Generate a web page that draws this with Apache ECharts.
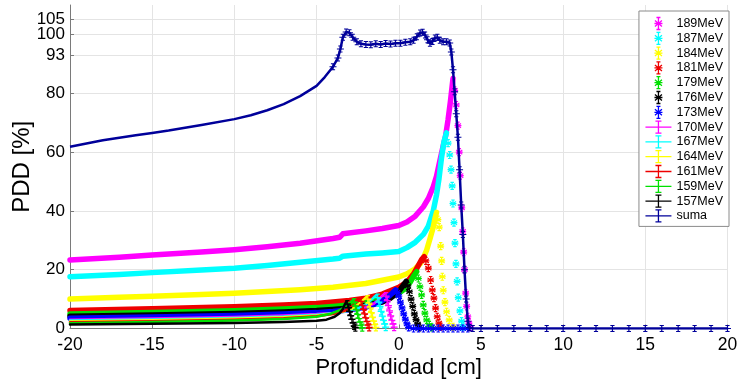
<!DOCTYPE html>
<html>
<head>
<meta charset="utf-8">
<script src="https://cdn.jsdelivr.net/npm/echarts@6/dist/echarts.min.js"></script>
<style>
  html, body { margin: 0; padding: 0; background: #fff; }
  #chart { width: 741px; height: 384px; }
</style>
</head>
<body>
<div id="chart"></div>
<script>
// Axis ticks
const depthTicks = [-20, -15, -10, -5, 0, 5, 10, 15, 20];
const doseTicks = [0, 20, 40, 60, 80, 93, 100, 105];

// Depth-dose curves per beam energy: [depth (cm), dose (%)]
const pdd189 = [[-20,23.3],[-17,24.2],[-15,25.0],[-12,26.0],[-10,26.8],[-8,27.8],[-6,29.0],[-4,30.6],[-3.6,31.0],[-3.4,32.2],[-2,33.2],[-1,34.0],[0,35.0],[0.5,36.2],[1,38.2],[1.5,41.4],[1.8,44.2],[2.1,48.2],[2.3,51.8],[2.5,57.0],[2.7,62.0],[2.85,65.5],[3.0,71.0],[3.15,77.5],[3.3,85.0],[3.4,81.0],[3.5,76.0],[3.6,69.0],[3.68,60.0],[3.74,52.0],[3.83,41.0],[3.89,33.0],[3.95,26.0],[4.0,20.0],[4.07,12.0],[4.13,7.5],[4.2,4.0],[4.27,1.8],[4.35,0.5]];
const pdd187 = [[-20,17.6],[-17,18.4],[-15,19.0],[-12,19.9],[-10,20.5],[-8,21.4],[-6,22.5],[-4,23.6],[-3.6,23.9],[-3.4,24.6],[-2,25.3],[-1,25.7],[0,26.2],[0.5,27.5],[1,29.3],[1.5,32.0],[1.8,34.8],[2.1,40.0],[2.3,45.5],[2.45,51.0],[2.6,58.0],[2.75,63.5],[2.9,66.5],[3.0,63.0],[3.1,59.0],[3.18,54.0],[3.25,48.5],[3.3,42.5],[3.36,36.0],[3.42,29.0],[3.48,22.0],[3.55,16.0],[3.62,10.5],[3.72,6.0],[3.82,2.5],[3.9,0.6]];
const pdd184 = [[-20,10.0],[-17,10.6],[-15,11.0],[-12,11.6],[-10,12.0],[-8,12.6],[-6,13.2],[-4,14.0],[-2,15.3],[0,17.5],[0.5,18.6],[1,20.3],[1.3,22.0],[1.5,24.0],[1.7,26.7],[1.9,30.5],[2.1,34.5],[2.22,37.8],[2.3,39.5],[2.38,37.0],[2.46,34.5],[2.55,28.0],[2.61,23.0],[2.65,17.6],[2.71,13.0],[2.81,9.0],[2.91,5.7],[3.07,2.9],[3.3,0.6]];
const pdd181 = [[-20,6.1],[-15,6.7],[-10,7.4],[-7,8.0],[-5,8.5],[-4,9.0],[-3,9.5],[-2,10.3],[-1,11.7],[0,14.0],[0.5,15.8],[0.9,18.5],[1.2,21.5],[1.4,23.5],[1.55,24.4],[1.65,23.0],[1.8,20.5],[1.94,16.5],[2.04,13.1],[2.14,10.3],[2.24,6.9],[2.34,4.0],[2.44,1.8],[2.55,0.6]];
const pdd179 = [[-20,4.9],[-15,5.4],[-10,6.0],[-7,6.6],[-5,7.1],[-4,7.5],[-3,8.0],[-2,8.8],[-1,10.0],[0,12.0],[0.4,13.6],[0.7,15.8],[0.9,17.8],[1.09,19.3],[1.19,17.0],[1.29,14.2],[1.39,11.4],[1.49,8.0],[1.59,5.2],[1.7,2.9],[1.86,1.2],[2.0,0.4]];
const pdd176 = [[-20,4.2],[-15,4.6],[-10,5.1],[-7,5.6],[-5,6.1],[-4,6.5],[-3,7.0],[-2,7.8],[-1,9.0],[-0.5,10.3],[0,12.5],[0.25,14.5],[0.45,16.0],[0.55,14.5],[0.65,12.5],[0.75,10.0],[0.85,7.5],[0.95,5.0],[1.05,3.0],[1.15,1.5],[1.25,0.4]];
const pdd173 = [[-20,3.5],[-15,3.9],[-10,4.4],[-7,4.9],[-5,5.4],[-4,5.8],[-3,6.4],[-2,7.3],[-1.2,8.8],[-0.7,10.5],[-0.4,12.0],[-0.2,13.1],[-0.1,12.3],[0,11.0],[0.1,9.0],[0.2,7.0],[0.3,5.0],[0.4,3.2],[0.5,1.6],[0.6,0.4],[0.9,0],[1.2,0],[1.5,0],[1.8,0],[2.1,0],[2.4,0],[2.7,0],[3.0,0],[3.3,0],[3.6,0],[3.9,0],[4.2,0]];
const pdd170 = [[-20,3.0],[-15,3.4],[-10,3.9],[-7,4.4],[-5,4.9],[-4,5.3],[-3,6.0],[-2,7.2],[-1.5,8.5],[-1.2,10.0],[-1.0,11.2],[-0.84,12.0],[-0.77,11.0],[-0.7,9.5],[-0.63,7.8],[-0.56,6.0],[-0.49,4.3],[-0.42,2.8],[-0.35,1.5],[-0.28,0.5]];
const pdd167 = [[-20,2.7],[-15,3.1],[-10,3.6],[-7,4.1],[-5,4.7],[-4,5.2],[-3,6.0],[-2.4,7.0],[-2.0,8.2],[-1.7,9.6],[-1.5,10.7],[-1.35,11.4],[-1.28,10.5],[-1.21,9.0],[-1.14,7.5],[-1.07,5.8],[-1.0,4.2],[-0.93,2.8],[-0.86,1.5],[-0.79,0.5]];
const pdd164 = [[-20,2.4],[-15,2.8],[-10,3.3],[-7,3.8],[-5,4.4],[-4,5.0],[-3.2,6.0],[-2.7,7.2],[-2.4,8.5],[-2.15,9.8],[-1.95,10.8],[-1.88,10.0],[-1.81,8.6],[-1.74,7.0],[-1.67,5.4],[-1.6,3.9],[-1.53,2.5],[-1.46,1.3],[-1.39,0.4]];
const pdd161 = [[-20,2.1],[-15,2.5],[-10,3.0],[-7,3.5],[-5,4.2],[-4,4.9],[-3.3,6.0],[-2.9,7.3],[-2.6,8.7],[-2.36,9.9],[-2.29,9.2],[-2.22,7.9],[-2.15,6.5],[-2.08,5.0],[-2.01,3.6],[-1.94,2.3],[-1.87,1.2],[-1.8,0.4]];
const pdd159 = [[-20,1.8],[-15,2.2],[-10,2.7],[-7,3.2],[-5,4.0],[-4.2,4.9],[-3.6,6.2],[-3.2,7.6],[-2.95,8.8],[-2.78,9.7],[-2.71,9.0],[-2.64,7.7],[-2.57,6.3],[-2.5,4.8],[-2.43,3.4],[-2.36,2.2],[-2.29,1.1],[-2.22,0.3]];
const pdd157 = [[-20,1.4],[-15,1.6],[-10,1.9],[-7,2.2],[-5,2.6],[-4.4,3.0],[-3.9,4.0],[-3.6,5.2],[-3.4,6.6],[-3.3,7.9],[-3.2,9.0],[-3.13,8.3],[-3.06,7.1],[-2.99,5.8],[-2.92,4.4],[-2.85,3.1],[-2.78,1.9],[-2.71,0.9],[-2.64,0.3]];
// Summed (spread-out) depth-dose
const suma = [[-20,61.8],[-18,64.0],[-16,65.7],[-15,66.5],[-14,67.3],[-12,69.2],[-10,71.2],[-9,72.5],[-8,74.2],[-7,76.3],[-6,79.0],[-5,82.5],[-4.5,85.5],[-4,89.0],[-3.7,92.0],[-3.55,95.0],[-3.4,99.0],[-3.2,100.8],[-3.0,100.6],[-2.8,99.0],[-2.55,97.5],[-2.3,96.8],[-2.0,96.6],[-1.7,96.5],[-1.4,96.8],[-1.1,96.6],[-0.8,96.9],[-0.5,96.7],[-0.2,97.0],[0.1,97.0],[0.4,97.3],[0.7,97.5],[0.9,98.0],[1.1,99.2],[1.3,100.5],[1.45,100.7],[1.6,99.8],[1.75,98.2],[1.9,97.0],[2.05,97.6],[2.2,98.8],[2.35,99.0],[2.5,98.0],[2.7,97.5],[2.9,97.5],[3.1,97.1],[3.2,94.0],[3.3,88.0],[3.4,80.5],[3.5,73.0],[3.6,65.0],[3.7,54.0],[3.8,42.0],[3.9,32.0],[4.0,20.0],[4.1,10.0],[4.2,2.5],[4.3,0.3],[4.5,0],[5,0],[6,0],[7,0],[8,0],[9,0],[10,0],[11,0],[12,0],[13,0],[14,0],[15,0],[16,0],[17,0],[18,0],[19,0],[20,0]];

const FONT = "'Liberation Sans', Arial, sans-serif";

// Marker glyphs: asterisk with error bar, and plus with error bar
const STAR_MARK = 'path://M5 0 L5 10 M3 0 L7 0 M3 10 L7 10 M1.5 2 L8.5 8 M1.5 8 L8.5 2 M1 5 L9 5';
const PLUS_MARK = 'path://M5 0 L5 10 M2 0 L8 0 M2 10 L8 10 M0 5 L10 5';
const STAR_ICON = 'path://M5 0 L5 12 M3 0 L7 0 M3 12 L7 12 M1.5 3 L8.5 9 M1.5 9 L8.5 3 M1 6 L9 6';
const LINE_ICON = 'path://M0 6 L26 6 M13 0 L13 12 M10 0 L16 0 M10 12 L16 12';

const curves = [
  { name: '189MeV', data: pdd189, color: '#ff00ff', star: true },
  { name: '187MeV', data: pdd187, color: '#00ffff', star: true },
  { name: '184MeV', data: pdd184, color: '#ffff00', star: true },
  { name: '181MeV', data: pdd181, color: '#ee0000', star: true },
  { name: '179MeV', data: pdd179, color: '#00e000', star: true },
  { name: '176MeV', data: pdd176, color: '#000000', star: true },
  { name: '173MeV', data: pdd173, color: '#0000ff', star: true },
  { name: '170MeV', data: pdd170, color: '#ff00ff', star: false },
  { name: '167MeV', data: pdd167, color: '#00ffff', star: false },
  { name: '164MeV', data: pdd164, color: '#ffff00', star: false },
  { name: '161MeV', data: pdd161, color: '#ee0000', star: false },
  { name: '159MeV', data: pdd159, color: '#00e000', star: false },
  { name: '157MeV', data: pdd157, color: '#000000', star: false }
];
const sumaColor = '#00009a';

const series = [];

// Horizontal grid lines at the dose ticks (kept underneath everything else)
series.push({
  type: 'line', data: [], silent: true, z: 0, zlevel: 0,
  markLine: {
    silent: true, symbol: ['none', 'none'], label: { show: false }, z: 0,
    lineStyle: { color: '#e4e4e4', type: 'solid', width: 1 },
    emphasis: { disabled: true },
    data: doseTicks.filter(v => v > 0).map(v => ({ yAxis: v }))
  }
});

curves.forEach(c => {
  // split each curve at its Bragg peak: rising part as a band, fall-off as markers
  let peak = 0;
  c.data.forEach((p, i) => { if (p[1] > c.data[peak][1]) peak = i; });
  series.push({
    type: 'line', name: c.name, data: c.data.slice(0, peak + 1),
    symbol: 'none', silent: true, z: 3,
    lineStyle: { color: c.color, width: c.star ? 5.5 : 2.5, cap: 'round', join: 'round' },
    itemStyle: { color: c.color }
  });
  series.push({
    type: 'scatter', name: c.name, data: c.data.slice(peak + 1),
    symbol: c.star ? STAR_MARK : PLUS_MARK, symbolSize: [7, 7], silent: true, z: 3,
    itemStyle: { color: 'none', borderColor: c.color, borderWidth: 1.2, opacity: 1 }
  });
});

series.push({
  type: 'line', name: 'suma', data: suma, silent: true, z: 4,
  symbol: (v) => (v[0] >= -4 ? PLUS_MARK : 'none'), symbolSize: [7, 6], showAllSymbol: true,
  lineStyle: { color: sumaColor, width: 2.5, join: 'round' },
  itemStyle: { color: 'none', borderColor: sumaColor, borderWidth: 1.1 }
});

const legendData = curves.map(c => ({
  name: c.name,
  icon: c.star ? STAR_ICON : LINE_ICON,
  itemStyle: { color: 'none', borderColor: c.color, borderWidth: 1.3 }
})).concat([{ name: 'suma', icon: LINE_ICON, itemStyle: { color: 'none', borderColor: sumaColor, borderWidth: 1.3 } }]);

const yAxisCommon = {
  type: 'value', min: 0, max: 110, position: 'left',
  axisTick: { show: true, inside: true, length: 4, lineStyle: { color: '#7a7a7a' } },
  splitLine: { show: false }
};

const chart = echarts.init(document.getElementById('chart'), null, { renderer: 'canvas' });
chart.setOption({
  animation: false,
  backgroundColor: '#fff',
  grid: { left: 70, right: 13.5, top: 5, bottom: 55.5, containLabel: false, outerBoundsMode: 'none' },
  xAxis: {
    type: 'value', min: -20, max: 20, interval: 5,
    name: 'Profundidad [cm]', nameLocation: 'middle', nameGap: 28, nameMoveOverlap: false,
    nameTextStyle: { fontSize: 22, fontFamily: FONT, color: '#000' },
    axisLine: { show: true, onZero: false, lineStyle: { color: '#7a7a7a', width: 1 } },
    axisTick: { show: true, inside: true, length: 4, lineStyle: { color: '#7a7a7a' } },
    axisLabel: { fontSize: 17.5, fontFamily: FONT, color: '#000', margin: 8,
                 customValues: depthTicks },
    splitLine: { show: true, lineStyle: { color: '#e4e4e4', width: 1 } }
  },
  yAxis: [
    Object.assign({}, yAxisCommon, {
      name: 'PDD [%]', nameLocation: 'middle', nameGap: 36, nameMoveOverlap: false,
      nameTextStyle: { fontSize: 24, fontFamily: FONT, color: '#000' },
      axisLine: { show: true, onZero: false, lineStyle: { color: '#7a7a7a', width: 1 } },
      axisTick: Object.assign({}, yAxisCommon.axisTick, { customValues: doseTicks.filter(v => v !== 105) }),
      axisLabel: { fontSize: 17, fontFamily: FONT, color: '#000', margin: 5,
                   customValues: doseTicks.filter(v => v !== 105) }
    }),
    // the closely spaced top tick gets its own label layer so it is not dropped as an overlap
    Object.assign({}, yAxisCommon, {
      axisLine: { show: false, onZero: false },
      axisTick: Object.assign({}, yAxisCommon.axisTick, { customValues: [105] }),
      axisLabel: { fontSize: 17, fontFamily: FONT, color: '#000', margin: 5, customValues: [105] }
    })
  ],
  legend: {
    orient: 'vertical', right: 12, top: 11, z: 20,
    backgroundColor: '#fff', borderColor: '#8a8a8a', borderWidth: 1, borderRadius: 0,
    padding: [4, 6, 2, 4], itemGap: -2.2, itemWidth: 26, itemHeight: 12,
    symbolKeepAspect: true, selectedMode: false,
    textStyle: { fontSize: 12.5, fontFamily: FONT, color: '#000' },
    data: legendData
  },
  series: series
});
</script>
</body>
</html>
